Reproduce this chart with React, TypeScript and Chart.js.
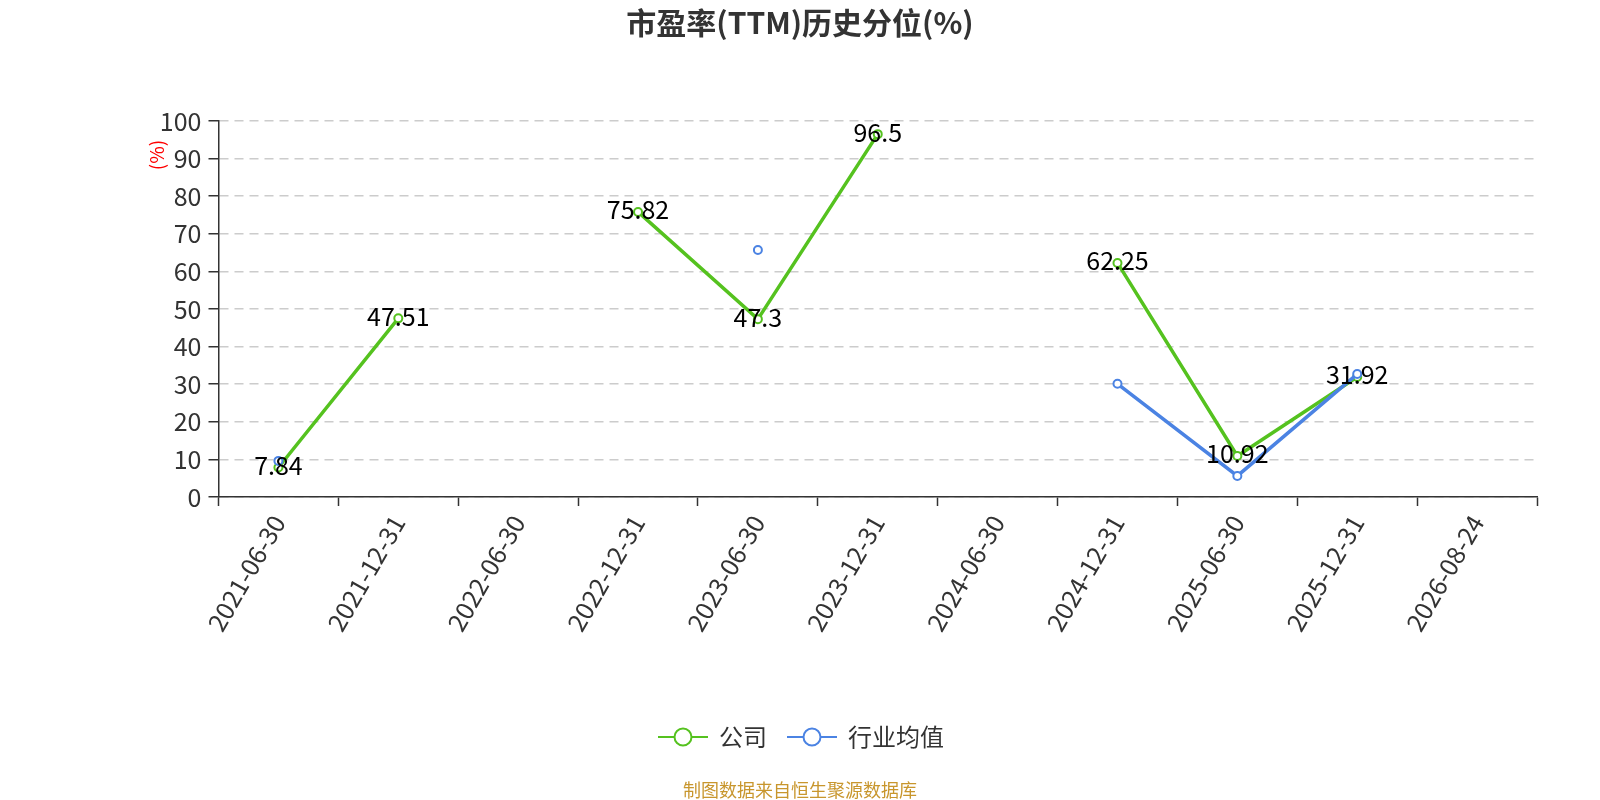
import React, { useEffect, useRef } from "react";
import { Chart, registerables } from "chart.js";

Chart.register(...registerables);

const categories = [
  "2021-06-30",
  "2021-12-31",
  "2022-06-30",
  "2022-12-31",
  "2023-06-30",
  "2023-12-31",
  "2024-06-30",
  "2024-12-31",
  "2025-06-30",
  "2025-12-31",
  "2026-08-24",
];
const companyValues: (number | null)[] = [7.84, 47.51, null, 75.82, 47.3, 96.5, null, 62.25, 10.92, 31.92, null];
const industryValues: (number | null)[] = [9.6, null, null, null, 65.7, null, null, 30.1, 5.6, 32.7, null];
const seriesNames = ["公司", "行业均值"];
const yMin = 0;
const yMax = 100;
const yStep = 10;
const titleText = "市盈率(TTM)历史分位(%)";
const yUnitText = "(%)";
const sourceText = "制图数据来自恒生聚源数据库";

const FONT = '"Microsoft YaHei", "Noto Sans CJK SC", "Noto Sans", sans-serif';
const GREEN = "#55C21F";
const BLUE = "#4B83E3";

const decorPlugin = {
  id: "decor",
  afterDraw(chart: any) {
    const ctx = chart.ctx as CanvasRenderingContext2D;
    ctx.save();
    // title
    ctx.fillStyle = "#333";
    ctx.font = `bold 30px ${FONT}`;
    ctx.textAlign = "center";
    ctx.textBaseline = "middle";
    ctx.fillText(titleText, 800, 23);

    // y unit
    ctx.save();
    ctx.translate(157, 155);
    ctx.rotate(-Math.PI / 2);
    ctx.fillStyle = "#ff0000";
    ctx.font = `19px ${FONT}`;
    ctx.textAlign = "center";
    ctx.textBaseline = "middle";
    ctx.fillText(yUnitText, 0, 0);
    ctx.restore();

    // legend
    const items = [
      { color: GREEN, x0: 658, text: seriesNames[0] },
      { color: BLUE, x0: 787, text: seriesNames[1] },
    ];
    const ly = 737;
    items.forEach((it) => {
      ctx.strokeStyle = it.color;
      ctx.lineWidth = 2;
      ctx.beginPath();
      ctx.moveTo(it.x0, ly);
      ctx.lineTo(it.x0 + 50, ly);
      ctx.stroke();
      ctx.beginPath();
      ctx.arc(it.x0 + 25, ly, 8.5, 0, Math.PI * 2);
      ctx.fillStyle = "#fff";
      ctx.fill();
      ctx.stroke();
      ctx.fillStyle = "#333";
      ctx.font = `24px ${FONT}`;
      ctx.textAlign = "left";
      ctx.textBaseline = "middle";
      ctx.fillText(it.text, it.x0 + 61, ly);
    });

    // source
    ctx.fillStyle = "#C8962D";
    ctx.font = `18px ${FONT}`;
    ctx.textAlign = "center";
    ctx.textBaseline = "middle";
    ctx.fillText(sourceText, 800, 790);
    ctx.restore();
  },
};

const labelPlugin = {
  id: "pointLabels",
  afterDatasetsDraw(chart: any) {
    const ctx = chart.ctx as CanvasRenderingContext2D;
    const meta = chart.getDatasetMeta(0);
    ctx.save();
    ctx.fillStyle = "#000";
    ctx.font = `25px ${FONT}`;
    ctx.textAlign = "center";
    ctx.textBaseline = "middle";
    meta.data.forEach((el: any, i: number) => {
      const v = companyValues[i];
      if (v == null) return;
      ctx.fillText(String(v), el.x, el.y - 2);
    });
    ctx.restore();
  },
};

export default function App() {
  const ref = useRef<HTMLCanvasElement | null>(null);
  useEffect(() => {
    document.body.style.margin = "0";
    const canvas = ref.current;
    if (!canvas) return;
    const chart = new Chart(canvas, {
      type: "line",
      data: {
        labels: categories,
        datasets: [
          {
            label: seriesNames[0],
            data: companyValues,
            borderColor: GREEN,
            backgroundColor: "#fff",
            borderWidth: 3.5,
            pointRadius: 4,
            pointBorderWidth: 2,
            pointBackgroundColor: "#fff",
            pointBorderColor: GREEN,
            spanGaps: false,
            tension: 0,
            order: 1,
          },
          {
            label: seriesNames[1],
            data: industryValues,
            borderColor: BLUE,
            backgroundColor: "#fff",
            borderWidth: 3.5,
            pointRadius: 4,
            pointBorderWidth: 2,
            pointBackgroundColor: "#fff",
            pointBorderColor: BLUE,
            spanGaps: false,
            tension: 0,
            order: 0,
          },
        ],
      },
      options: {
        animation: false,
        responsive: false,
        maintainAspectRatio: false,
        layout: { padding: { top: 121, right: 63, bottom: 0, left: 0 } },
        plugins: {
          legend: { display: false },
          title: { display: false },
          tooltip: { enabled: false },
        },
        scales: {
          x: {
            type: "category",
            offset: true,
            grid: {
              display: true,
              offset: true,
              drawOnChartArea: false,
              drawTicks: true,
              tickLength: 9,
              tickColor: "#333",
              tickWidth: 1.5,
            },
            border: { display: true, color: "#333", width: 1.5 },
            ticks: {
              autoSkip: false,
              minRotation: 60,
              maxRotation: 60,
              padding: 4,
              color: "#333",
              font: { size: 25, family: FONT },
            },
            afterFit: (s: any) => {
              s.height = 303;
            },
          },
          y: {
            min: yMin,
            max: yMax,
            ticks: {
              stepSize: yStep,
              padding: 7,
              color: "#333",
              font: { size: 25, family: FONT },
            },
            grid: {
              color: "#cccccc",
              lineWidth: 1.5,
              drawTicks: true,
              tickLength: 10,
              tickColor: "#333",
              tickWidth: 1.5,
            },
            border: { display: true, color: "#333", width: 1.5, dash: [9, 6] },
            afterFit: (s: any) => {
              s.width = 218.5;
            },
          },
        },
      } as any,
      plugins: [labelPlugin, decorPlugin],
    });
    return () => chart.destroy();
  }, []);
  return (
    <div style={{ position: "absolute", left: 0, top: 0, width: 1600, height: 800, background: "#fff" }}>
      <canvas ref={ref} width={1600} height={800} style={{ width: 1600, height: 800 }} />
    </div>
  );
}
